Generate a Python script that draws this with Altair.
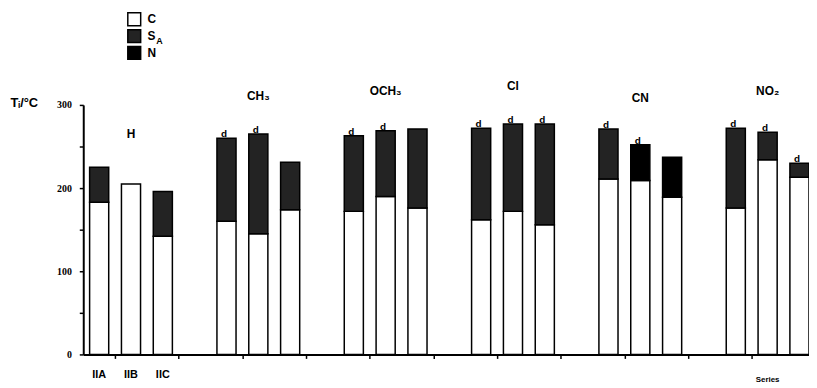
import altair as alt
import pandas as pd

# ---------------- data ----------------
groups = ["H", "CH₃", "OCH₃", "Cl", "CN", "NO₂"]
group_label_y = [265, 311, 317, 323, 308, 317]
c_top = [183, 205, 142, 160, 145, 174, 172, 190, 176, 162, 172, 156, 211, 209, 189, 176, 234, 213]
clear_top = [225, 205, 196, 260, 265, 231, 263, 269, 271, 272, 277, 277, 271, 252, 237, 272, 267, 230]
upper_phase = ["S", "S", "S", "S", "S", "S", "S", "S", "S", "S", "S", "S", "S", "N", "N", "S", "S", "S"]
marker = [0, 0, 0, 1, 1, 0, 1, 1, 0, 1, 1, 1, 1, 1, 0, 1, 1, 1]
sub_labels = ["IIA", "IIB", "IIC"]
legend_phases = ["C", "S", "N"]
legend_colors = ["#ffffff", "#232323", "#000000"]
series_word = ["Series"]

# ---------------- tables ----------------
half = 0.3
seg_rows, mark_rows = [], []
for i in range(len(c_top)):
    g, j = divmod(i, 3)
    slot = 4 * g + j
    seg_rows.append({"x0": slot - half, "x1": slot + half, "lo": 0, "hi": c_top[i], "phase": "C"})
    if clear_top[i] > c_top[i]:
        seg_rows.append({"x0": slot - half, "x1": slot + half, "lo": c_top[i], "hi": clear_top[i],
                         "phase": upper_phase[i]})
    if marker[i]:
        mark_rows.append({"slot": slot - 0.08, "top": clear_top[i], "t": "d"})
segs = pd.DataFrame(seg_rows)
marks = pd.DataFrame(mark_rows)
glab = pd.DataFrame({"slot": [4 * g + 1 for g in range(len(groups))], "y": group_label_y, "t": groups})
slab = pd.DataFrame({"slot": [0, 1, 2], "t": sub_labels})
ser = pd.DataFrame({"slot": [21], "t": series_word})
sub_a = pd.DataFrame({"t": ["A"]})

FONT = "Liberation Sans"
xs = alt.Scale(domain=[-0.5, 22.3], nice=False, zero=False)
ys = alt.Scale(domain=[0, 300], nice=False)

x_axis = alt.Axis(values=[k + 0.5 for k in range(22)], labels=False, title=None, grid=False,
                  tickSize=4, tickWidth=1.5, tickColor="black", domainColor="black", domainWidth=2)
y_axis = alt.Axis(values=list(range(0, 301, 50)), format="d",
                  labelExpr="datum.value % 100 === 0 ? datum.label : ''",
                  tickSize=4, tickWidth=1.5, tickColor="black", domainColor="black", domainWidth=2,
                  labelFont="Liberation Sans Narrow", labelFontWeight="bold", labelFontSize=10,
                  labelColor="black", labelPadding=8, grid=False,
                  title="Tᵢ/°C", titleAngle=0, titleAlign="left", titleBaseline="middle",
                  titleX=-74, titleY=-2, titleFont=FONT, titleFontSize=13, titleFontWeight="bold",
                  titleColor="black")

bars = alt.Chart(segs).mark_bar(stroke="black", strokeWidth=1.5).encode(
    x=alt.X("x0:Q", scale=xs, axis=x_axis),
    x2="x1:Q",
    y=alt.Y("lo:Q", scale=ys, axis=y_axis),
    y2="hi:Q",
    fill=alt.Fill("phase:N", scale=alt.Scale(domain=legend_phases, range=legend_colors),
                  legend=alt.Legend(title=None, orient="none", legendX=44, legendY=-94, padding=0,
                                    symbolType="square", symbolSize=169, symbolStrokeColor="black",
                                    symbolStrokeWidth=1.5, labelFont=FONT, labelFontSize=12,
                                    labelFontWeight="bold", labelColor="black", labelOffset=6,
                                    rowPadding=-2, symbolOpacity=1)),
)

dmarks = alt.Chart(marks).mark_text(font=FONT, fontWeight="bold", fontSize=10, baseline="bottom",
                                    dy=1, color="black").encode(
    x=alt.X("slot:Q", scale=xs), y=alt.Y("top:Q", scale=ys), text="t:N")

glabels = alt.Chart(glab).mark_text(font=FONT, fontWeight="bold", fontSize=12, baseline="middle",
                                    color="black").encode(
    x=alt.X("slot:Q", scale=xs), y=alt.Y("y:Q", scale=ys), text="t:N")

slabels = alt.Chart(slab).mark_text(font=FONT, fontWeight="bold", fontSize=11, baseline="middle",
                                    color="black").encode(
    x=alt.X("slot:Q", scale=xs), y=alt.value(273), text="t:N")

series = alt.Chart(ser).mark_text(font=FONT, fontWeight="bold", fontSize=8, baseline="middle",
                                  color="black").encode(
    x=alt.X("slot:Q", scale=xs), y=alt.value(278), text="t:N")

sublab = alt.Chart(sub_a).mark_text(font=FONT, fontWeight="bold", fontSize=9, baseline="middle",
                                    color="black").encode(
    x=alt.value(77), y=alt.value(-65), text="t:N")

chart = alt.layer(bars, dmarks, glabels, slabels, series, sublab).properties(
    width=733, height=252,
    autosize=alt.AutoSizeParams(type="none"),
    padding={"left": 76, "top": 96, "right": 0, "bottom": 30},
    background="white",
).configure_view(stroke=None)

chart.save("out.html", embed_options={"renderer": "svg", "actions": False})
